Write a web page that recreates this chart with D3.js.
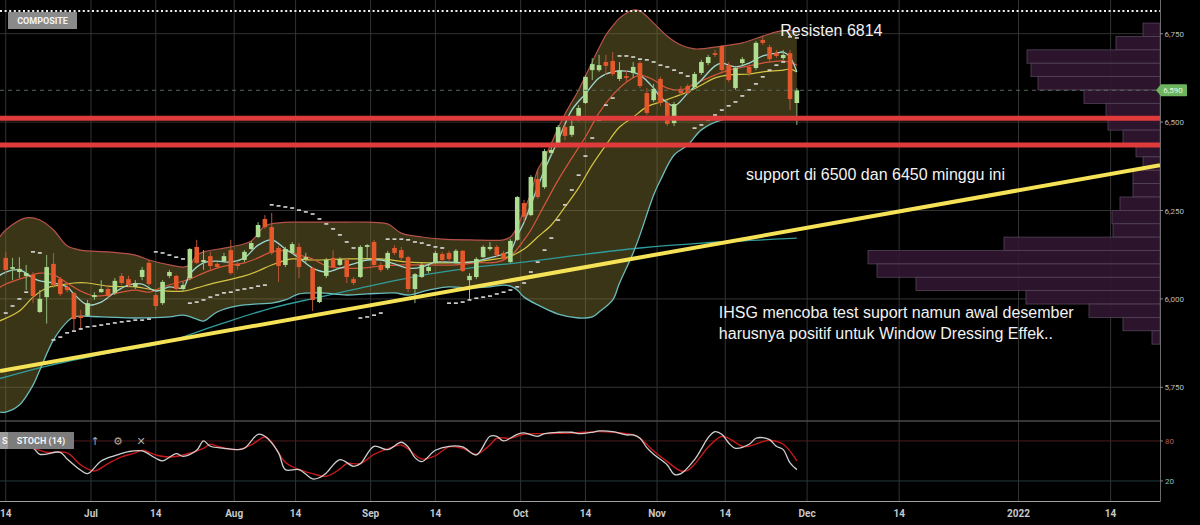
<!DOCTYPE html>
<html><head><meta charset="utf-8">
<script src="https://cdn.jsdelivr.net/npm/d3@7"></script>
<style>
html,body{margin:0;padding:0;background:#000;overflow:hidden;}
svg{display:block;}
</style></head><body>
<svg id="c" width="1200" height="525"></svg>
<script>
// ---------------- DATA ----------------
const holidays = ["2021-06-01","2021-07-20","2021-08-11","2021-08-17","2021-10-20"];
// [date, open, high, low, close]
const ohlc = [
["2021-06-14",6116,6133,6070,6082],["2021-06-15",6085,6116,6053,6090],["2021-06-16",6076,6118,6059,6085],
["2021-06-17",6065,6096,6025,6073],["2021-06-18",6068,6076,5988,6008],["2021-06-21",5963,6025,5960,6000],
["2021-06-22",6005,6124,5930,6090],["2021-06-23",6099,6130,6031,6039],["2021-06-24",6056,6062,6008,6014],
["2021-06-25",6034,6045,6019,6025],["2021-06-28",6017,6019,5912,5943],["2021-06-29",5952,5969,5912,5946],
["2021-06-30",5952,5997,5949,5988],["2021-07-01",6005,6019,5997,6011],["2021-07-02",6019,6053,6017,6028],
["2021-07-05",6028,6039,6002,6008],["2021-07-06",6017,6059,6011,6051],["2021-07-07",6065,6073,6039,6045],
["2021-07-08",6056,6065,6034,6039],["2021-07-09",6034,6053,6028,6045],["2021-07-12",6062,6090,6053,6082],
["2021-07-13",6102,6110,6036,6042],["2021-07-14",6011,6017,5969,5980],["2021-07-15",5988,6053,5983,6048],
["2021-07-16",6065,6082,6059,6076],["2021-07-19",6065,6068,6022,6028],["2021-07-21",6028,6048,6022,6039],
["2021-07-22",6059,6144,6053,6141],["2021-07-23",6147,6167,6099,6102],["2021-07-26",6104,6138,6082,6110],
["2021-07-27",6121,6133,6082,6093],["2021-07-28",6099,6104,6087,6090],["2021-07-29",6107,6130,6102,6121],
["2021-07-30",6138,6167,6068,6073],["2021-08-02",6099,6104,6082,6093],["2021-08-03",6110,6138,6104,6133],
["2021-08-04",6141,6164,6138,6158],["2021-08-05",6175,6217,6172,6209],["2021-08-06",6226,6237,6198,6203],
["2021-08-09",6203,6243,6124,6130],["2021-08-10",6144,6150,6048,6093],["2021-08-12",6096,6147,6090,6141],
["2021-08-13",6130,6161,6127,6155],["2021-08-16",6147,6158,6059,6090],["2021-08-18",6113,6130,6104,6118],
["2021-08-19",6087,6090,5966,5997],["2021-08-20",5991,6036,5988,6034],["2021-08-23",6065,6116,6059,6110],
["2021-08-24",6116,6138,6087,6090],["2021-08-25",6096,6118,6093,6113],["2021-08-26",6110,6116,6045,6062],
["2021-08-27",6056,6062,6039,6045],["2021-08-30",6062,6152,6059,6147],["2021-08-31",6147,6155,6116,6152],
["2021-09-01",6161,6167,6090,6096],["2021-09-02",6096,6104,6076,6082],["2021-09-03",6087,6136,6082,6130],
["2021-09-06",6144,6152,6124,6130],["2021-09-07",6138,6147,6110,6116],["2021-09-08",6118,6121,6019,6028],
["2021-09-09",6028,6073,5988,6070],["2021-09-10",6062,6102,6059,6096],["2021-09-13",6079,6096,6073,6090],
["2021-09-14",6102,6136,6099,6130],["2021-09-15",6127,6133,6104,6110],["2021-09-16",6130,6136,6104,6113],
["2021-09-17",6102,6141,6099,6136],["2021-09-20",6136,6138,6076,6079],["2021-09-21",6053,6073,5997,6065],
["2021-09-22",6062,6118,6056,6113],["2021-09-23",6118,6152,6116,6147],["2021-09-24",6141,6161,6136,6147],
["2021-09-27",6147,6152,6118,6124],["2021-09-28",6130,6136,6107,6113],["2021-09-29",6104,6169,6102,6164],
["2021-09-30",6167,6291,6164,6288],["2021-10-01",6271,6280,6217,6232],["2021-10-04",6237,6350,6234,6345],
["2021-10-05",6339,6365,6283,6288],["2021-10-06",6316,6424,6311,6418],["2021-10-07",6413,6438,6404,6421],
["2021-10-08",6441,6492,6435,6486],["2021-10-11",6486,6495,6449,6461],["2021-10-12",6464,6506,6458,6489],
["2021-10-13",6506,6548,6503,6540],["2021-10-14",6554,6633,6551,6628],["2021-10-15",6647,6681,6619,6664],
["2021-10-18",6647,6690,6642,6661],["2021-10-19",6670,6690,6633,6659],["2021-10-21",6673,6698,6630,6636],
["2021-10-22",6622,6670,6616,6647],["2021-10-25",6630,6647,6613,6625],["2021-10-26",6639,6670,6625,6656],
["2021-10-27",6667,6673,6596,6602],["2021-10-28",6582,6596,6520,6526],["2021-10-29",6562,6608,6557,6594],
["2021-11-01",6622,6628,6546,6554],["2021-11-02",6554,6562,6489,6495],["2021-11-03",6497,6557,6489,6551],
["2021-11-04",6594,6602,6577,6582],["2021-11-05",6602,6608,6577,6582],["2021-11-08",6599,6642,6594,6636],
["2021-11-09",6639,6676,6633,6670],["2021-11-10",6667,6690,6661,6684],["2021-11-11",6695,6704,6684,6690],
["2021-11-12",6715,6718,6642,6647],["2021-11-15",6661,6670,6613,6619],["2021-11-16",6596,6659,6591,6653],
["2021-11-17",6667,6684,6661,6678],["2021-11-18",6656,6664,6630,6639],["2021-11-19",6653,6729,6647,6724],
["2021-11-22",6732,6741,6718,6724],["2021-11-23",6712,6718,6670,6678],["2021-11-24",6695,6704,6681,6687],
["2021-11-25",6681,6704,6676,6690],["2021-11-26",6695,6704,6534,6565],["2021-11-29",6554,6596,6492,6590]
];
const bbUpper = [["2021-06-11",6172],["2021-06-14",6195],["2021-06-17",6229],["2021-06-21",6223],["2021-06-23",6195],
["2021-06-25",6150],["2021-06-29",6138],["2021-07-05",6133],["2021-07-09",6124],["2021-07-13",6110],["2021-07-16",6096],
["2021-07-21",6090],["2021-07-22",6096],["2021-07-23",6124],["2021-07-26",6133],["2021-07-30",6147],["2021-08-04",6164],
["2021-08-06",6206],["2021-08-10",6215],["2021-08-16",6217],["2021-08-24",6217],["2021-08-31",6217],["2021-09-03",6212],
["2021-09-07",6186],["2021-09-10",6175],["2021-09-15",6169],["2021-09-21",6167],["2021-09-28",6167],["2021-09-29",6175],
["2021-09-30",6203],["2021-10-01",6251],["2021-10-04",6299],["2021-10-05",6365],["2021-10-06",6398],["2021-10-08",6483],
["2021-10-11",6523],["2021-10-13",6591],["2021-10-15",6670],["2021-10-18",6710],["2021-10-19",6746],["2021-10-21",6772],
["2021-10-22",6794],["2021-10-26",6817],["2021-10-27",6814],["2021-10-29",6780],["2021-11-02",6743],["2021-11-04",6718],
["2021-11-08",6707],["2021-11-12",6715],["2021-11-17",6724],["2021-11-22",6743],["2021-11-24",6755],["2021-11-26",6760],
["2021-11-29",6755]];
const bbLower = [["2021-06-11",5680],["2021-06-14",5680],["2021-06-16",5700],["2021-06-18",5756],["2021-06-21",5799],
["2021-06-23",5884],["2021-06-25",5935],["2021-06-28",5949],["2021-07-02",5949],["2021-07-09",5946],["2021-07-16",5949],
["2021-07-21",5954],["2021-07-23",5943],["2021-07-26",5937],["2021-07-28",5963],["2021-08-02",5980],["2021-08-05",5986],
["2021-08-09",5988],["2021-08-12",5997],["2021-08-16",6014],["2021-08-20",6017],["2021-08-26",6011],["2021-08-31",6014],
["2021-09-06",6017],["2021-09-08",6011],["2021-09-13",6025],["2021-09-16",6034],["2021-09-21",6031],["2021-09-24",6034],
["2021-09-28",6039],["2021-09-29",6036],["2021-09-30",6025],["2021-10-01",6005],["2021-10-05",5983],["2021-10-08",5957],
["2021-10-13",5946],["2021-10-15",5949],["2021-10-18",5963],["2021-10-21",5997],["2021-10-22",6045],["2021-10-26",6130],
["2021-10-27",6181],["2021-10-29",6294],["2021-11-01",6336],["2021-11-03",6407],["2021-11-05",6435],["2021-11-09",6478],
["2021-11-12",6506],["2021-11-16",6512],["2021-11-22",6514],["2021-11-29",6512]];
const maFast = [["2021-06-11",6065],["2021-06-14",6076],["2021-06-16",6082],["2021-06-18",6059],["2021-06-21",6051],
["2021-06-23",6045],["2021-06-25",6034],["2021-06-28",6014],["2021-06-30",5983],["2021-07-02",5991],["2021-07-06",6019],
["2021-07-08",6039],["2021-07-12",6042],["2021-07-14",6022],["2021-07-16",6034],["2021-07-21",6031],["2021-07-22",6070],
["2021-07-26",6102],["2021-07-28",6107],["2021-07-30",6104],["2021-08-03",6116],["2021-08-05",6152],["2021-08-09",6167],
["2021-08-12",6141],["2021-08-16",6116],["2021-08-19",6087],["2021-08-23",6076],["2021-08-25",6087],["2021-08-27",6099],
["2021-08-31",6110],["2021-09-02",6110],["2021-09-06",6099],["2021-09-08",6087],["2021-09-10",6090],["2021-09-14",6104],
["2021-09-16",6104],["2021-09-20",6102],["2021-09-22",6107],["2021-09-24",6116],["2021-09-28",6127],["2021-09-29",6136],
["2021-09-30",6178],["2021-10-01",6217],["2021-10-04",6266],["2021-10-06",6365],["2021-10-08",6449],["2021-10-12",6534],
["2021-10-14",6580],["2021-10-18",6625],["2021-10-21",6642],["2021-10-25",6644],["2021-10-27",6633],["2021-10-29",6596],
["2021-11-01",6571],["2021-11-03",6546],["2021-11-05",6582],["2021-11-09",6619],["2021-11-11",6659],["2021-11-12",6667],
["2021-11-16",6656],["2021-11-18",6667],["2021-11-22",6687],["2021-11-24",6695],["2021-11-25",6698],["2021-11-26",6684],
["2021-11-29",6642]];
const maMid = [["2021-06-11",6031],["2021-06-14",6042],["2021-06-17",6062],["2021-06-21",6073],["2021-06-23",6068],
["2021-06-25",6045],["2021-06-29",6022],["2021-07-01",6008],["2021-07-05",6011],["2021-07-07",6019],["2021-07-09",6025],
["2021-07-13",6019],["2021-07-15",6034],["2021-07-19",6045],["2021-07-22",6056],["2021-07-26",6073],["2021-07-28",6087],
["2021-07-30",6096],["2021-08-03",6102],["2021-08-05",6116],["2021-08-09",6133],["2021-08-12",6136],["2021-08-16",6124],
["2021-08-19",6113],["2021-08-23",6093],["2021-08-26",6087],["2021-08-30",6087],["2021-09-02",6093],["2021-09-07",6096],
["2021-09-13",6096],["2021-09-17",6096],["2021-09-22",6102],["2021-09-27",6104],["2021-09-29",6121],["2021-10-01",6167],
["2021-10-04",6195],["2021-10-06",6266],["2021-10-08",6336],["2021-10-12",6398],["2021-10-14",6458],["2021-10-18",6526],
["2021-10-21",6577],["2021-10-25",6613],["2021-10-27",6633],["2021-10-29",6619],["2021-11-02",6596],["2021-11-04",6591],
["2021-11-08",6608],["2021-11-11",6633],["2021-11-15",6647],["2021-11-18",6659],["2021-11-22",6667],["2021-11-25",6673],
["2021-11-29",6661]];
const maSlow = [["2021-06-11",5937],["2021-06-16",5966],["2021-06-18",6005],["2021-06-22",6031],["2021-06-24",6039],
["2021-06-28",6045],["2021-06-30",6045],["2021-07-05",6036],["2021-07-09",6034],["2021-07-14",6025],["2021-07-21",6022],
["2021-07-23",6031],["2021-07-27",6042],["2021-07-29",6051],["2021-08-03",6065],["2021-08-05",6079],["2021-08-09",6096],
["2021-08-13",6113],["2021-08-19",6110],["2021-08-26",6113],["2021-09-02",6113],["2021-09-08",6104],["2021-09-14",6102],
["2021-09-21",6104],["2021-09-27",6113],["2021-09-29",6121],["2021-10-01",6141],["2021-10-05",6175],["2021-10-07",6209],
["2021-10-11",6260],["2021-10-13",6314],["2021-10-15",6379],["2021-10-19",6435],["2021-10-22",6486],["2021-10-26",6514],
["2021-10-28",6543],["2021-11-01",6557],["2021-11-03",6571],["2021-11-05",6585],["2021-11-09",6605],["2021-11-11",6625],
["2021-11-15",6633],["2021-11-18",6636],["2021-11-22",6642],["2021-11-25",6647],["2021-11-26",6650],["2021-11-29",6642]];
const maLong = [["2021-06-11",5774],["2021-06-22",5810],["2021-07-05",5847],["2021-07-15",5875],["2021-07-28",5926],
["2021-08-09",5974],["2021-08-20",6005],["2021-09-01",6039],["2021-09-13",6070],["2021-09-22",6090],["2021-10-01",6104],
["2021-10-13",6124],["2021-10-27",6144],["2021-11-09",6158],["2021-11-22",6167],["2021-11-29",6172]];
const sar = [["2021-06-14",5960],["2021-06-15",5980],["2021-06-16",6000],["2021-06-17",6019],["2021-06-18",6133],
["2021-06-21",6130],["2021-06-23",5884],["2021-06-24",5892],["2021-06-25",5904],["2021-06-28",5909],["2021-06-29",5915],
["2021-06-30",5921],["2021-07-01",5923],["2021-07-02",5926],["2021-07-05",5929],["2021-07-06",5932],["2021-07-07",5935],
["2021-07-08",5937],["2021-07-09",5940],["2021-07-12",5940],["2021-07-13",5943],["2021-07-14",6133],["2021-07-15",6130],
["2021-07-16",6124],["2021-07-19",6118],["2021-07-21",6113],["2021-07-22",5988],["2021-07-23",5991],["2021-07-26",5997],
["2021-07-27",6005],["2021-07-28",6011],["2021-07-29",6017],["2021-07-30",6019],["2021-08-02",6025],["2021-08-03",6028],
["2021-08-04",6031],["2021-08-05",6036],["2021-08-06",6039],["2021-08-09",6266],["2021-08-10",6263],["2021-08-12",6260],
["2021-08-13",6257],["2021-08-16",6251],["2021-08-18",6246],["2021-08-19",6240],["2021-08-20",6226],["2021-08-23",6212],
["2021-08-24",6198],["2021-08-25",6181],["2021-08-26",6161],["2021-08-27",6144],["2021-08-30",5946],["2021-08-31",5949],
["2021-09-01",5954],["2021-09-02",5960],["2021-09-03",6169],["2021-09-06",6169],["2021-09-07",6169],["2021-09-08",6167],
["2021-09-09",6161],["2021-09-10",6158],["2021-09-13",6152],["2021-09-14",6147],["2021-09-15",6144],["2021-09-16",5988],
["2021-09-17",5988],["2021-09-20",5991],["2021-09-21",5997],["2021-09-22",6002],["2021-09-23",6005],["2021-09-24",6008],
["2021-09-27",6014],["2021-09-28",6019],["2021-09-29",6025],["2021-09-30",6034],["2021-10-01",6045],["2021-10-04",6076],
["2021-10-05",6104],["2021-10-06",6138],["2021-10-07",6172],["2021-10-08",6223],["2021-10-11",6266],["2021-10-12",6308],
["2021-10-13",6350],["2021-10-14",6404],["2021-10-15",6455],["2021-10-18",6506],["2021-10-19",6548],["2021-10-21",6568],
["2021-10-22",6687],["2021-10-25",6687],["2021-10-26",6684],["2021-10-27",6678],["2021-10-28",6676],["2021-10-29",6670],
["2021-11-01",6661],["2021-11-02",6656],["2021-11-03",6647],["2021-11-04",6639],["2021-11-05",6630],["2021-11-08",6483],
["2021-11-09",6492],["2021-11-10",6506],["2021-11-11",6520],["2021-11-12",6534],["2021-11-15",6546],["2021-11-16",6557],
["2021-11-17",6574],["2021-11-18",6591],["2021-11-19",6608],["2021-11-22",6628],["2021-11-23",6647],["2021-11-24",6661],
["2021-11-25",6670],["2021-11-26",6741],["2021-11-29",6738]];
const stochK = [["2021-06-11",72],["2021-06-14",73],["2021-06-18",69],["2021-06-21",60],["2021-06-24",63],["2021-06-25",53],
["2021-06-29",36],["2021-06-30",31],["2021-07-02",50],["2021-07-06",58],["2021-07-08",64],["2021-07-12",65],["2021-07-14",54],
["2021-07-15",50],["2021-07-19",61],["2021-07-21",57],["2021-07-23",66],["2021-07-26",80],["2021-07-27",72],["2021-07-29",69],
["2021-08-02",67],["2021-08-03",69],["2021-08-05",90],["2021-08-06",87],["2021-08-10",62],["2021-08-12",37],["2021-08-16",37],
["2021-08-19",23],["2021-08-20",25],["2021-08-23",32],["2021-08-25",52],["2021-08-27",42],["2021-08-30",46],["2021-09-01",72],
["2021-09-03",67],["2021-09-07",78],["2021-09-08",71],["2021-09-09",55],["2021-09-10",49],["2021-09-14",66],["2021-09-16",72],
["2021-09-20",71],["2021-09-22",59],["2021-09-24",87],["2021-09-27",87],["2021-09-28",80],["2021-09-30",90],["2021-10-01",92],
["2021-10-05",87],["2021-10-06",91],["2021-10-08",93],["2021-10-12",93],["2021-10-13",91],["2021-10-15",93],["2021-10-18",95],
["2021-10-21",94],["2021-10-25",89],["2021-10-26",89],["2021-10-27",84],["2021-10-28",70],["2021-10-29",60],["2021-11-02",44],
["2021-11-03",30],["2021-11-04",31],["2021-11-08",52],["2021-11-09",68],["2021-11-10",85],["2021-11-11",94],["2021-11-12",90],
["2021-11-15",77],["2021-11-16",69],["2021-11-18",75],["2021-11-19",84],["2021-11-22",85],["2021-11-23",82],["2021-11-24",72],
["2021-11-25",67],["2021-11-26",47],["2021-11-29",37]];
const stochD = [["2021-06-11",71],["2021-06-14",72],["2021-06-18",69],["2021-06-22",63],["2021-06-25",62],["2021-06-29",44],
["2021-07-01",35],["2021-07-05",46],["2021-07-07",56],["2021-07-09",62],["2021-07-12",66],["2021-07-14",59],["2021-07-16",56],
["2021-07-21",59],["2021-07-26",69],["2021-07-27",75],["2021-07-28",72],["2021-08-02",67],["2021-08-04",74],["2021-08-06",86],
["2021-08-09",78],["2021-08-12",48],["2021-08-16",37],["2021-08-19",31],["2021-08-23",27],["2021-08-25",38],["2021-08-26",46],
["2021-08-30",46],["2021-09-01",60],["2021-09-03",68],["2021-09-07",74],["2021-09-08",68],["2021-09-10",53],["2021-09-14",58],
["2021-09-16",71],["2021-09-20",69],["2021-09-22",60],["2021-09-24",74],["2021-09-27",84],["2021-09-29",84],["2021-10-01",90],
["2021-10-06",91],["2021-10-12",92],["2021-10-18",94],["2021-10-21",93],["2021-10-26",89],["2021-10-27",84],["2021-10-29",65],
["2021-11-02",49],["2021-11-04",35],["2021-11-05",36],["2021-11-08",45],["2021-11-09",58],["2021-11-10",71],["2021-11-12",87],
["2021-11-15",84],["2021-11-17",72],["2021-11-18",72],["2021-11-22",79],["2021-11-23",81],["2021-11-25",75],["2021-11-29",50]];
const vpHigh = 6780, vpLow = 5872;
const volumeProfile = [17,44,133,129,122,76,54,52,37,24,17,27,27,40,48,47,156,292,283,244,134,71,37,8];
const supports = [6511, 6435];
const resistance = 6814;
const trendPts = [["2021-06-14",5799],["2021-11-29",6196]];
const priceTicks = [5750, 6000, 6250, 6500, 6750];
const stochLevels = [80, 20];
const xTicks = [["2021-06-14","14"],["2021-07-01","Jul"],["2021-07-14","14"],["2021-08-01","Aug"],["2021-08-14","14"],
["2021-09-01","Sep"],["2021-09-14","14"],["2021-10-01","Oct"],["2021-10-14","14"],["2021-11-01","Nov"],["2021-11-14","14"],
["2021-12-01","Dec"],["2021-12-14","14"],["2022-01-01","2022"],["2022-01-14","14"]];
const notes = [
  {text:"Resisten 6814", date:"2021-11-25", value:6744},
  {text:"support di 6500 dan 6450 minggu ini", date:"2021-11-18", value:6335},
  {text:"IHSG mencoba test suport namun awal desember", date:"2021-11-12", value:5945},
  {text:"harusnya positif untuk Window Dressing Effek..", date:"2021-11-12", value:5888}
];

// ---------------- LAYOUT ----------------
const W = 1200, H = 525, plotR = 1160, mainB = 420, stT = 421, stB = 501;
const svg = d3.select("#c");
svg.append("rect").attr("width", W).attr("height", H).attr("fill", "#000");
const defs = svg.append("defs");
defs.append("clipPath").attr("id","cm").append("rect").attr("x",0).attr("y",0).attr("width",plotR).attr("height",mainB);
defs.append("clipPath").attr("id","cs").append("rect").attr("x",0).attr("y",stT).attr("width",plotR).attr("height",stB-stT);

const parse = d3.utcParse("%Y-%m-%d"), fmt = d3.utcFormat("%Y-%m-%d");
const hol = new Set(holidays);
const slots = [];
const futureStart = parse("2021-12-01");
for (let d = parse("2021-06-01"); d <= parse("2022-02-15"); d = d3.utcDay.offset(d, 1)) {
  const s = fmt(d), wd = d.getUTCDay();
  if (d < futureStart && (wd === 0 || wd === 6 || hol.has(s))) continue;
  slots.push(s);
}
const slotIndex = new Map(slots.map((s, i) => [s, i]));
const slotOf = s => slotIndex.has(s) ? slotIndex.get(s) : slots.findIndex(t => t >= s);
const step = 6.82;
const iRef = slotIndex.get("2021-07-01");
const x = d3.scaleLinear().domain([iRef, iRef + 100]).range([94.4, 94.4 + 100 * step]);
const xd = s => x(slotOf(s));
const y = d3.scaleLinear().domain([5750, 6750]).range([387.3, 33.7]);
const ys = d3.scaleLinear().domain([0, 100]).range([494.3, 427.6]);
const FONT = "Roboto, 'Liberation Sans', Arial, sans-serif";

// ---------------- GRID ----------------
const grid = svg.append("g");
const tickX = xTicks.map(([d, lab]) => {
  const i = slotOf(d);
  const center = lab === "14" && slotIndex.has(d);
  return {lab, px: center ? x(i) : x(i) - step / 2};
});
grid.selectAll("line.v").data(tickX).join("line")
  .attr("x1", d => d.px).attr("x2", d => d.px).attr("y1", 0).attr("y2", stB)
  .attr("stroke", "#333").attr("stroke-width", 1);
grid.selectAll("line.h").data(priceTicks).join("line")
  .attr("x1", 0).attr("x2", plotR).attr("y1", d => y(d)).attr("y2", d => y(d))
  .attr("stroke", "#333").attr("stroke-width", 1);

// ---------------- MAIN PANEL ----------------
const main = svg.append("g").attr("clip-path", "url(#cm)");
const ln = d3.line().x(d => xd(d[0])).y(d => y(d[1])).curve(d3.curveCatmullRom.alpha(0.5));
const upPath = ln(bbUpper);
const loPath = ln(bbLower.slice().reverse());
main.append("path").attr("d", upPath + "L" + loPath.slice(1) + "Z")
  .attr("fill", "#8a7e38").attr("fill-opacity", 0.42);

// volume profile
const vpBin = (vpHigh - vpLow) / volumeProfile.length;
const xv = d3.scaleLinear().domain([0, 300]).range([0, 300]);
main.append("g").selectAll("rect").data(volumeProfile).join("rect")
  .attr("x", d => plotR - xv(d)).attr("width", d => xv(d))
  .attr("y", (d, i) => y(vpHigh - i * vpBin)).attr("height", (d, i) => y(vpHigh - (i + 1) * vpBin) - y(vpHigh - i * vpBin))
  .attr("fill", "#321733").attr("fill-opacity", 0.88).attr("stroke", "#55445a").attr("stroke-width", 0.8);

const lines = [
  [maLong, "#2f9b9b", 1.3],
  [bbUpper, "#b5524a", 1.2],
  [bbLower, "#6bbcbc", 1.3],
  [maSlow, "#d6c444", 1.2],
  [maMid, "#d4563c", 1.2],
  [maFast, "#9fd8d4", 1.3]
];
lines.forEach(([data, c, w]) => {
  main.append("path").attr("d", ln(data)).attr("fill", "none").attr("stroke", c).attr("stroke-width", w);
});

// candles
const bw = 4.6;
const cg = main.append("g");
ohlc.forEach(([d, o, h, l, c]) => {
  const cx = xd(d), up = c >= o, col = up ? "#aedd92" : "#e5582c";
  cg.append("line").attr("x1", cx).attr("x2", cx).attr("y1", y(h)).attr("y2", y(l))
    .attr("stroke", up ? "#8fb87c" : "#b8563a").attr("stroke-width", 1);
  const top = y(Math.max(o, c)), bot = y(Math.min(o, c));
  cg.append("rect").attr("x", cx - bw / 2).attr("width", bw).attr("y", top).attr("height", Math.max(1, bot - top)).attr("fill", col);
});

// SAR
main.append("g").selectAll("rect").data(sar).join("rect")
  .attr("x", d => xd(d[0]) - 2).attr("width", 4).attr("y", d => y(d[1]) - 0.8).attr("height", 1.6).attr("fill", "#d8d8d8");

// support lines
main.selectAll("line.sup").data(supports).join("line")
  .attr("x1", 0).attr("x2", plotR).attr("y1", d => y(d)).attr("y2", d => y(d))
  .attr("stroke", "#e03b3b").attr("stroke-width", 5);

// trend line extended across plot
const ti0 = slotOf(trendPts[0][0]), ti1 = slotOf(trendPts[1][0]);
const tslope = (trendPts[1][1] - trendPts[0][1]) / (ti1 - ti0);
const iL = x.invert(0), iR = x.invert(plotR);
main.append("line")
  .attr("x1", x(iL)).attr("y1", y(trendPts[0][1] + (iL - ti0) * tslope))
  .attr("x2", x(iR)).attr("y2", y(trendPts[0][1] + (iR - ti0) * tslope))
  .attr("stroke", "#f6e256").attr("stroke-width", 4);

// resistance dotted
svg.append("line").attr("x1", 0).attr("x2", plotR).attr("y1", y(resistance)).attr("y2", y(resistance))
  .attr("stroke", "#f2f2f2").attr("stroke-width", 2).attr("stroke-dasharray", "2,2.6");

// last price line + tag
const last = ohlc[ohlc.length - 1];
svg.append("line").attr("x1", 0).attr("x2", plotR).attr("y1", y(last[4])).attr("y2", y(last[4]))
  .attr("stroke", "#58685a").attr("stroke-width", 1).attr("stroke-dasharray", "4,4");

// ---------------- RIGHT AXIS ----------------
svg.append("line").attr("x1", plotR + 0.5).attr("x2", plotR + 0.5).attr("y1", 0).attr("y2", stB).attr("stroke", "#6a6a6a");
const yAx = svg.append("g");
priceTicks.forEach(v => {
  yAx.append("line").attr("x1", plotR).attr("x2", plotR + 3).attr("y1", y(v)).attr("y2", y(v)).attr("stroke", "#888");
  yAx.append("text").attr("x", plotR + 4.5).attr("y", y(v) + 3).text(d3.format(",")(v))
    .attr("fill", "#bdbdbd").attr("font-size", 8).attr("font-family", FONT);
});
const py = y(last[4]);
svg.append("path").attr("d", `M${plotR - 4},${py} L${plotR + 1},${py - 6} L${plotR + 26},${py - 6} Q${plotR + 27},${py - 6} ${plotR + 27},${py - 5} L${plotR + 27},${py + 5} Q${plotR + 27},${py + 6} ${plotR + 26},${py + 6} L${plotR + 1},${py + 6} Z`)
  .attr("fill", "#6cb55e");
svg.append("text").attr("x", plotR + 13).attr("y", py + 3).attr("text-anchor", "middle").text(d3.format(",")(last[4]))
  .attr("fill", "#e6f5e0").attr("font-size", 8).attr("font-family", FONT);

// ---------------- ANNOTATIONS ----------------
svg.append("g").selectAll("text").data(notes).join("text")
  .attr("x", d => xd(d.date) - 3).attr("y", d => y(d.value)).text(d => d.text)
  .attr("fill", "#f2f2f2").attr("font-size", 16).attr("font-family", "'Liberation Sans', Arial, sans-serif");

// COMPOSITE badge
svg.append("rect").attr("x", 8).attr("y", 12).attr("width", 69).attr("height", 17).attr("fill", "#8a8a8a");
svg.append("text").attr("x", 42.5).attr("y", 24).attr("text-anchor", "middle").text("COMPOSITE")
  .attr("fill", "#f4f4f4").attr("font-size", 9).attr("font-weight", "bold").attr("font-family", FONT);

// ---------------- STOCH PANEL ----------------
svg.append("line").attr("x1", 0).attr("x2", plotR).attr("y1", stT).attr("y2", stT).attr("stroke", "#4a4a4a").attr("stroke-width", 1.5);
const st = svg.append("g").attr("clip-path", "url(#cs)");
st.selectAll("line.lv").data(stochLevels).join("line")
  .attr("x1", 0).attr("x2", plotR).attr("y1", d => ys(d)).attr("y2", d => ys(d))
  .attr("stroke", d => d > 50 ? "#4d1c1c" : "#1f3a3a").attr("stroke-width", 1);
const sl = d3.line().x(d => xd(d[0])).y(d => ys(d[1])).curve(d3.curveCatmullRom.alpha(0.5));
st.append("path").attr("d", sl(stochD)).attr("fill", "none").attr("stroke", "#c41a1a").attr("stroke-width", 1.4);
st.append("path").attr("d", sl(stochK)).attr("fill", "none").attr("stroke", "#cfcfcf").attr("stroke-width", 1.3);
stochLevels.forEach(v => {
  svg.append("line").attr("x1", plotR).attr("x2", plotR + 3).attr("y1", ys(v)).attr("y2", ys(v)).attr("stroke", "#888");
  svg.append("text").attr("x", plotR + 5).attr("y", ys(v) + 3).text(v)
    .attr("fill", v > 50 ? "#b65a55" : "#8cc4c0").attr("font-size", 8).attr("font-family", FONT);
});
svg.append("rect").attr("x", -60).attr("y", 432).attr("width", 70).attr("height", 17).attr("fill", "#9c9c9c");
svg.append("text").attr("x", 2).attr("y", 444).text("S").attr("fill", "#f4f4f4").attr("font-size", 9).attr("font-weight", "bold").attr("font-family", FONT);
svg.append("rect").attr("x", 8).attr("y", 432).attr("width", 66).attr("height", 17).attr("fill", "#7c7c7c");
svg.append("text").attr("x", 41).attr("y", 444).attr("text-anchor", "middle").text("STOCH (14)")
  .attr("fill", "#f4f4f4").attr("font-size", 9).attr("font-weight", "bold").attr("font-family", FONT);
[["↑", 95], ["⚙", 118], ["✕", 141]].forEach(([t, px]) => {
  svg.append("text").attr("x", px).attr("y", 445).attr("text-anchor", "middle").text(t)
    .attr("fill", "#a8a8a8").attr("font-size", 11).attr("font-family", "'DejaVu Sans', sans-serif");
});

// ---------------- X AXIS ----------------
svg.append("line").attr("x1", 0).attr("x2", plotR + 0.5).attr("y1", stB + 0.5).attr("y2", stB + 0.5).attr("stroke", "#a0a0a0").attr("stroke-width", 1);
svg.append("g").selectAll("text").data(tickX).join("text")
  .attr("x", d => d.px).attr("y", 516.5).attr("text-anchor", "middle").text(d => d.lab)
  .attr("fill", "#c8c8c8").attr("font-size", 10).attr("font-weight", "bold").attr("font-family", FONT);
</script>
</body></html>
